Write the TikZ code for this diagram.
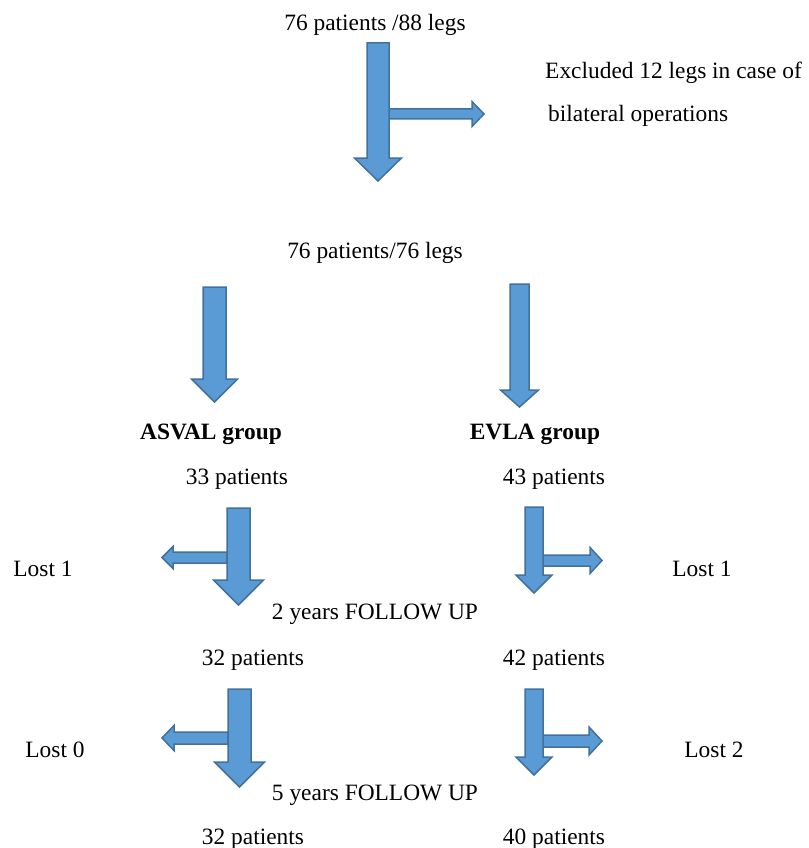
\documentclass[tikz,border=0pt]{standalone}
\usepackage{fontspec}
\setmainfont{Liberation Serif}
\usepackage{xcolor}
\definecolor{arrowfill}{RGB}{91,155,213}
\definecolor{arrowedge}{RGB}{65,113,156}

% down block arrow: {cx}{top}{head base}{tip}{half shaft}{half head}
\newcommand{\downblock}[6]{%
  \filldraw[blockarrow] ({#1-#5},#2) -- ({#1+#5},#2) -- ({#1+#5},#3) -- ({#1+#6},#3)
    -- (#1,#4) -- ({#1-#6},#3) -- ({#1-#5},#3) -- cycle;}
% side block arrow: {start x}{cy}{head base x}{tip x}{half shaft}{half head}
\newcommand{\sideblock}[6]{%
  \filldraw[blockarrow] (#1,{#2-#5}) -- (#3,{#2-#5}) -- (#3,{#2-#6}) -- (#4,#2)
    -- (#3,{#2+#6}) -- (#3,{#2+#5}) -- (#1,{#2+#5}) -- cycle;}

\begin{document}
\begin{tikzpicture}[
    x=1pt, y=-1pt,
    font=\fontsize{23.4}{28}\selectfont,
    blockarrow/.style={fill=arrowfill, draw=arrowedge, line width=1.5pt, line join=miter},
    txt/.style={inner sep=0pt, anchor=center},
    head/.style={txt, font=\fontsize{23.4}{28}\selectfont\bfseries}
]
    \useasboundingbox (0,0) rectangle (808,848);

    % Arrows
    \sideblock{389}{114}{472}{484}{5}{12.5}
    \downblock{378}{43}{158}{181}{11}{23.5}

    \downblock{214.5}{287}{379}{402}{11.5}{23}
    \downblock{519.5}{284}{390}{407}{9.5}{19}

    \sideblock{227}{557.5}{173}{162}{5.5}{11}
    \downblock{238.5}{508}{580}{605}{11.5}{25}
    \sideblock{543}{560.5}{590}{602}{5.5}{13}
    \downblock{534}{507}{575}{593}{9}{18}

    \sideblock{228}{738}{174}{162}{6}{12.5}
    \downblock{239.5}{689}{762}{787}{11.5}{25}
    \sideblock{543}{741}{589}{602}{6}{14}
    \downblock{534}{689}{757}{775}{9}{18}

    % Texts
    \node[txt] (start) at (375,24.5) {76 patients /88 legs};
    \node[txt, anchor=west] (excl1) at (545,72.5) {Excluded 12 legs in case of};
    \node[txt, anchor=west] (excl2) at (548,115.5) {bilateral operations};
    \node[txt] (incl) at (375,252.5) {76 patients/76 legs};

    \node[head] (asval) at (211,434.5) {ASVAL group};
    \node[head] (evla) at (535,434.5) {EVLA group};
    \node[txt] (asval0) at (237,479.5) {33 patients};
    \node[txt] (evla0) at (554,479.5) {43 patients};

    \node[txt] (lostA1) at (43,568.5) {Lost 1};
    \node[txt] (lostE1) at (702,568.5) {Lost 1};
    \node[txt] (fu2) at (375,614.5) {2 years FOLLOW UP};
    \node[txt] (asval2) at (253,660.5) {32 patients};
    \node[txt] (evla2) at (554,660.5) {42 patients};

    \node[txt] (lostA2) at (55,749.5) {Lost 0};
    \node[txt] (lostE2) at (714,749.5) {Lost 2};
    \node[txt] (fu5) at (375,795.5) {5 years FOLLOW UP};
    \node[txt] (asval5) at (253,839.5) {32 patients};
    \node[txt] (evla5) at (554,839.5) {40 patients};

\end{tikzpicture}
\end{document}
